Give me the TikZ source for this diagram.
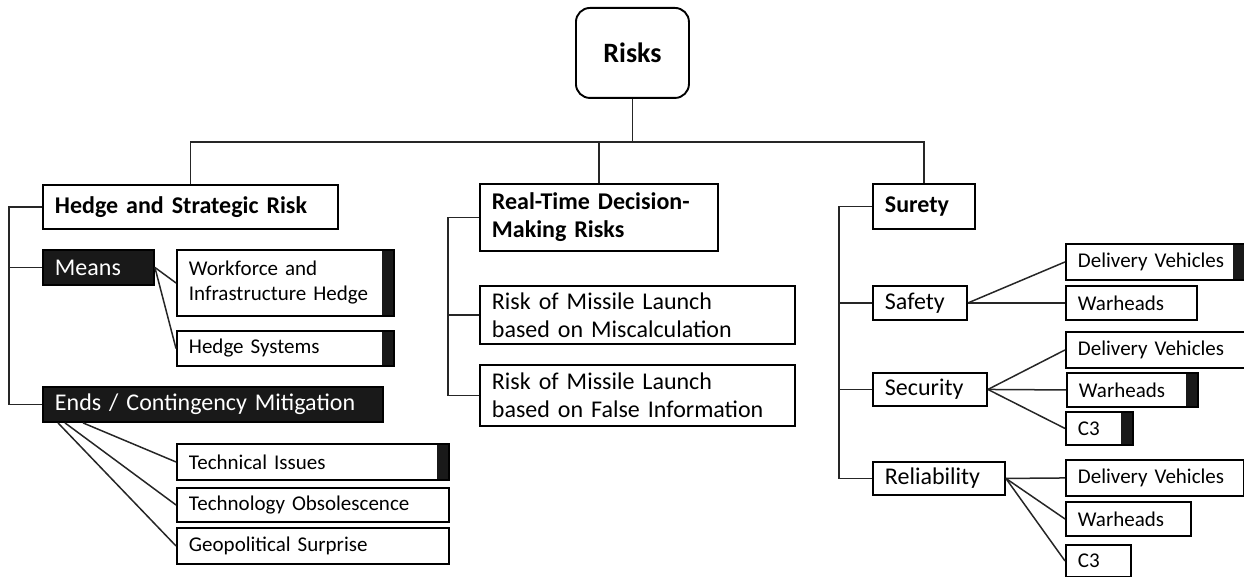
\documentclass[tikz,border=0pt]{standalone}
\usepackage{fontspec}
\setmainfont{Carlito}
\usetikzlibrary{positioning}

\tikzset{
  box/.style={draw, line width=1.9pt, anchor=north west, align=left,
    inner xsep=12pt, inner ysep=0pt, font=\fontsize{24}{28}\selectfont},
  bbox/.style={box, font=\fontsize{24}{28}\selectfont\bfseries},
  leaf/.style={box, font=\fontsize{21}{25}\selectfont},
  dark/.style={box, fill=black!90, text=white},
  strip/.style={path picture={\fill[black!90] ([xshift=-12pt]path picture bounding box.north east) rectangle (path picture bounding box.south east);}},
  conn/.style={line width=1.5pt, black!85},
}

\begin{document}
\begin{tikzpicture}[x=1pt, y=-1pt]
  \useasboundingbox (0,0) rectangle (1244,577);

  % root
  \node[bbox, rounded corners=14pt, align=center, font=\fontsize{28}{32}\selectfont\bfseries,
        text width=89pt, minimum height=90pt] (risks) at (575,7) {Risks};

  % hedge column
  \node[bbox, text width=271pt, minimum height=44pt] (hsr) at (42,184) {Hedge and Strategic Risk};
  \node[dark, text width=87pt, minimum height=35pt] (means) at (42,249) {Means};
  \node[leaf, strip, text width=193pt, minimum height=66pt] (wfh) at (176,249) {Workforce and\\Infrastructure Hedge};
  \node[leaf, strip, text width=193pt, minimum height=35pt] (hsys) at (176,330) {Hedge Systems};
  \node[dark, text width=316pt, minimum height=35pt] (ends) at (42,386) {Ends / Contingency Mitigation};
  \node[leaf, strip, text width=248pt, minimum height=36pt] (tech) at (176,443) {Technical Issues};
  \node[leaf, text width=248pt, minimum height=34pt] (obs) at (176,487) {Technology Obsolescence};
  \node[leaf, text width=248pt, minimum height=36pt] (geo) at (176,527) {Geopolitical Surprise};

  % decision column
  \node[bbox, text width=214pt, minimum height=67pt] (rtd) at (479,183) {Real-Time Decision-\\Making Risks};
  \node[box, text width=291pt, minimum height=58pt] (miscalc) at (479,285) {Risk of Missile Launch\\based on Miscalculation};
  \node[box, text width=291pt, minimum height=61pt] (falseinfo) at (479,364) {Risk of Missile Launch\\based on False Information};

  % surety column
  \node[bbox, text width=78pt, minimum height=45pt] (surety) at (872,183) {Surety};
  \node[box, text width=70pt, minimum height=34pt] (safety) at (872,285) {Safety};
  \node[box, text width=90pt, minimum height=33pt] (security) at (872,372) {Security};
  \node[box, text width=108pt, minimum height=33pt] (reliab) at (872,461) {Reliability};

  \node[leaf, strip, text width=155pt, minimum height=36pt] (sdv) at (1065,243) {Delivery Vehicles};
  \node[leaf, text width=107pt, minimum height=34pt] (swh) at (1065,285) {Warheads};
  \node[leaf, text width=166pt, minimum height=36pt] (cdv) at (1065,331) {Delivery Vehicles};
  \node[leaf, strip, text width=107pt, minimum height=34pt] (cwh) at (1066,372) {Warheads};
  \node[leaf, strip, text width=43pt, minimum height=33pt] (cc3) at (1065,411) {C3};
  \node[leaf, text width=154pt, minimum height=36pt] (rdv) at (1065,459) {Delivery Vehicles};
  \node[leaf, text width=101pt, minimum height=34pt] (rwh) at (1065,501) {Warheads};
  \node[leaf, text width=41pt, minimum height=32pt] (rc3) at (1065,544) {C3};

  % top bus
  \draw[conn] (risks.south) -- ++(0,43) coordinate (bus);
  \draw[conn] (bus) -| (hsr.north);
  \draw[conn] (bus) -| (rtd.north);
  \draw[conn] (bus) -| (surety.north);

  % hedge links
  \draw[conn] (hsr.west) -- ++(-33,0) |- (ends.west);
  \draw[conn] (means.west) -- ++(-33,0);
  \draw[conn] (means.east) -- (wfh.west);
  \draw[conn] (means.east) -- (hsys.west);
  \draw[conn] ([xshift=41pt]ends.south west) -- (tech.west);
  \draw[conn] ([xshift=23pt]ends.south west) -- (obs.west);
  \draw[conn] ([xshift=16pt]ends.south west) -- (geo.west);

  % decision links
  \draw[conn] (rtd.west) -- ++(-31,0) |- (falseinfo.west);
  \draw[conn] (miscalc.west) -- ++(-31,0);

  % surety links
  \draw[conn] (surety.west) -- ++(-33,0) |- (reliab.west);
  \draw[conn] (safety.west) -- ++(-33,0);
  \draw[conn] (security.west) -- ++(-33,0);
  \draw[conn] (safety.east) -- (sdv.west);
  \draw[conn] (safety.east) -- (swh.west);
  \draw[conn] (security.east) -- (cdv.west);
  \draw[conn] (security.east) -- (cwh.west);
  \draw[conn] (security.east) -- (cc3.west);
  \draw[conn] (reliab.east) -- (rdv.west);
  \draw[conn] (reliab.east) -- (rwh.west);
  \draw[conn] (reliab.east) -- (rc3.west);
\end{tikzpicture}
\end{document}
